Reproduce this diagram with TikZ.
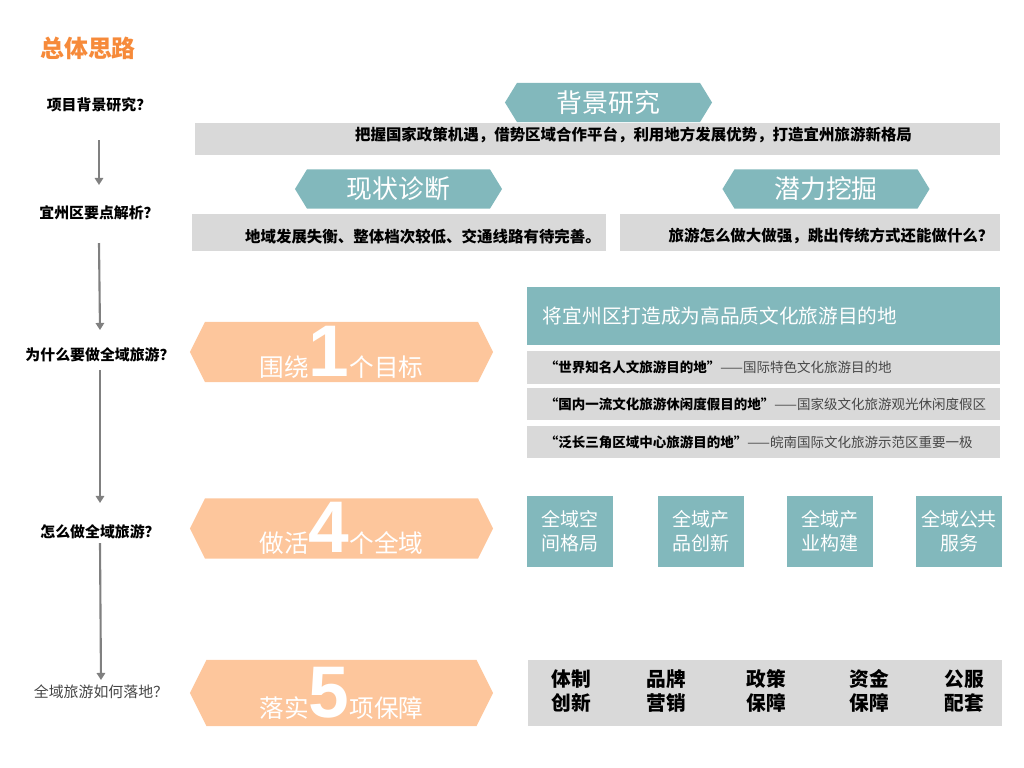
\documentclass[tikz,border=0pt]{standalone}
\usepackage{fontspec}
\setmainfont{Noto Sans CJK SC}
\newfontfamily\numfont{Liberation Sans}
\usetikzlibrary{arrows.meta,positioning,shapes.symbols}

\definecolor{ttlorange}{RGB}{246,138,58}
\definecolor{tealc}{RGB}{130,184,188}
\definecolor{peach}{RGB}{253,198,156}
\definecolor{bargray}{RGB}{217,217,217}
\definecolor{argray}{RGB}{128,128,128}
\definecolor{txtgray}{RGB}{70,70,70}

\newcommand{\bigdigit}{\numfont\bfseries\fontsize{52}{52}\selectfont}

\tikzset{
  ttl/.style={font=\fontsize{17}{20}\selectfont\bfseries, text=ttlorange},
  qst/.style={font=\fontsize{10.6}{12}\selectfont\bfseries, text=black, inner sep=1pt},
  qstlast/.style={qst, font=\fontsize{10.6}{12}\selectfont, text=txtgray},
  ar/.style={-{Triangle[length=5pt,width=6pt]}, line width=1.5pt, draw=argray},
  tealban/.style={signal, signal to=west and east, signal pointer angle=117,
                  fill=tealc, text=white, inner sep=0pt,
                  minimum width=5.175cm, minimum height=0.975cm,
                  font=\fontsize{18.4}{20}\selectfont},
  orgban/.style={signal, signal to=west and east, signal pointer angle=127,
                 fill=peach, text=white, inner sep=0pt,
                 minimum width=7.575cm, minimum height=1.5cm,
                 font=\fontsize{17.5}{20}\selectfont},
  gbar/.style={rectangle, fill=bargray, inner sep=0pt},
  bartxt/.style={font=\fontsize{11}{13}\selectfont\bfseries, text=black, inner sep=0pt},
  rowtxt/.style={font=\fontsize{9.6}{12}\selectfont, text=txtgray, inner sep=0pt, anchor=west},
  tbox/.style={rectangle, fill=tealc, text=white, minimum width=2.15cm,
               minimum height=1.775cm, align=center, inner sep=0pt,
               font=\fontsize{13.5}{17}\selectfont},
  blbl/.style={font=\fontsize{14}{17}\selectfont\bfseries, text=black,
               align=center, inner sep=0pt},
}

\begin{document}
\begin{tikzpicture}[x=0.025cm, y=-0.025cm]
\useasboundingbox (0,0) rectangle (1024,768);

\node[ttl] (title) at (88,48) {总体思路};

%% =====================================================================
%% left column: the guiding questions, chained top to bottom
%% =====================================================================
\node[qst] (q1) at (99,105) {项目背景研究？};
\node[qst] (q2) at (99,213) {宜州区要点解析？};
\node[qst] (q3) at (100,355) {为什么要做全域旅游？};
\node[qst] (q4) at (100,532) {怎么做全域旅游？};
\node[qstlast] (q5) at (101,692) {全域旅游如何落地？};

\draw[ar] ([yshift=-0.875cm]q1.center) -- ([yshift=0.7cm]q2.center);
\draw[ar] ([yshift=-0.75cm]q2.center) -- ([yshift=0.625cm]q3.center);
\draw[ar] ([yshift=-0.375cm]q3.center) -- ([yshift=0.725cm]q4.center);
\draw[ar] ([yshift=-0.275cm]q4.center) -- ([yshift=0.3cm]q5.center);

%% =====================================================================
%% background research and key points
%% =====================================================================
\node[tealban] (bj) at (608.5,102.5) {背景研究};
\node[gbar, minimum width=20.125cm, minimum height=0.8cm] (g1) at (597.5,139) {};
\node[bartxt] (g1t) at ([xshift=0.9cm, yshift=0.1cm]g1.center)
  {把握国家政策机遇，借势区域合作平台，利用地方发展优势，打造宜州旅游新格局};

\node[tealban] (xz) at (398.5,189) {现状诊断};
\node[tealban] (ql) at (826,189) {潜力挖掘};

\node[gbar, minimum width=10.35cm, minimum height=0.925cm] (g2) at (399,232.5) {};
\node[bartxt] (g2t) at ([xshift=0.6cm, yshift=-0.09cm]g2.center)
  {地域发展失衡、整体档次较低、交通线路有待完善。};
\node[gbar, minimum width=9.5cm, minimum height=0.925cm] (g3) at (810,232.5) {};
\node[bartxt] (g3t) at ([xshift=0.525cm, yshift=-0.09cm]g3.center)
  {旅游怎么做大做强，跳出传统方式还能做什么？};

%% =====================================================================
%% one goal
%% =====================================================================
\node[orgban] (o1) at (341.5,352) {围绕{\bigdigit 1}个目标};

\node[rectangle, fill=tealc, text=white, minimum width=11.825cm, minimum height=1.45cm,
      text width=11.025cm, inner xsep=0.4cm, align=left,
      font=\fontsize{14}{16}\selectfont] (goal) at (763.5,316)
  {将宜州区打造成为高品质文化旅游目的地};

\node[gbar, minimum width=11.825cm, minimum height=0.8cm] (r1) at (763.5,367.5) {};
\node[gbar, minimum width=11.825cm, minimum height=0.8cm] (r2) at (763.5,404) {};
\node[gbar, minimum width=11.825cm, minimum height=0.8cm] (r3) at (763.5,442) {};
\node[rowtxt] (r1t) at ([xshift=0.45cm]r1.west)
  {\textbf{\color{black}“世界知名人文旅游目的地”}——国际特色文化旅游目的地};
\node[rowtxt] (r2t) at ([xshift=0.45cm]r2.west)
  {\textbf{\color{black}“国内一流文化旅游休闲度假目的地”}——国家级文化旅游观光休闲度假区};
\node[rowtxt] (r3t) at ([xshift=0.45cm]r3.west)
  {\textbf{\color{black}“泛长三角区域中心旅游目的地”}——皖南国际文化旅游示范区重要一极};

%% =====================================================================
%% four whole-area tasks
%% =====================================================================
\node[orgban] (o2) at (341.5,528.5) {做活{\bigdigit 4}个全域};

\node[tbox] (w1) at (570,531.5) {全域空\\间格局};
\node[tbox] (w2) at (701,531.5) {全域产\\品创新};
\node[tbox] (w3) at (830,531.5) {全域产\\业构建};
\node[tbox] (w4) at (959,531.5) {全域公共\\服务};

%% =====================================================================
%% five guarantees
%% =====================================================================
\node[orgban, minimum height=1.65cm] (o3) at (341.5,693) {落实{\bigdigit 5}项保障};

\node[gbar, minimum width=11.85cm, minimum height=1.65cm] (g4) at (765,693) {};
\node[blbl] (p1) at (571,691) {体制\\创新};
\node[blbl] (p2) at (666,691) {品牌\\营销};
\node[blbl] (p3) at (766,691) {政策\\保障};
\node[blbl] (p4) at (869,691) {资金\\保障};
\node[blbl] (p5) at (964,691) {公服\\配套};

\end{tikzpicture}
\end{document}
